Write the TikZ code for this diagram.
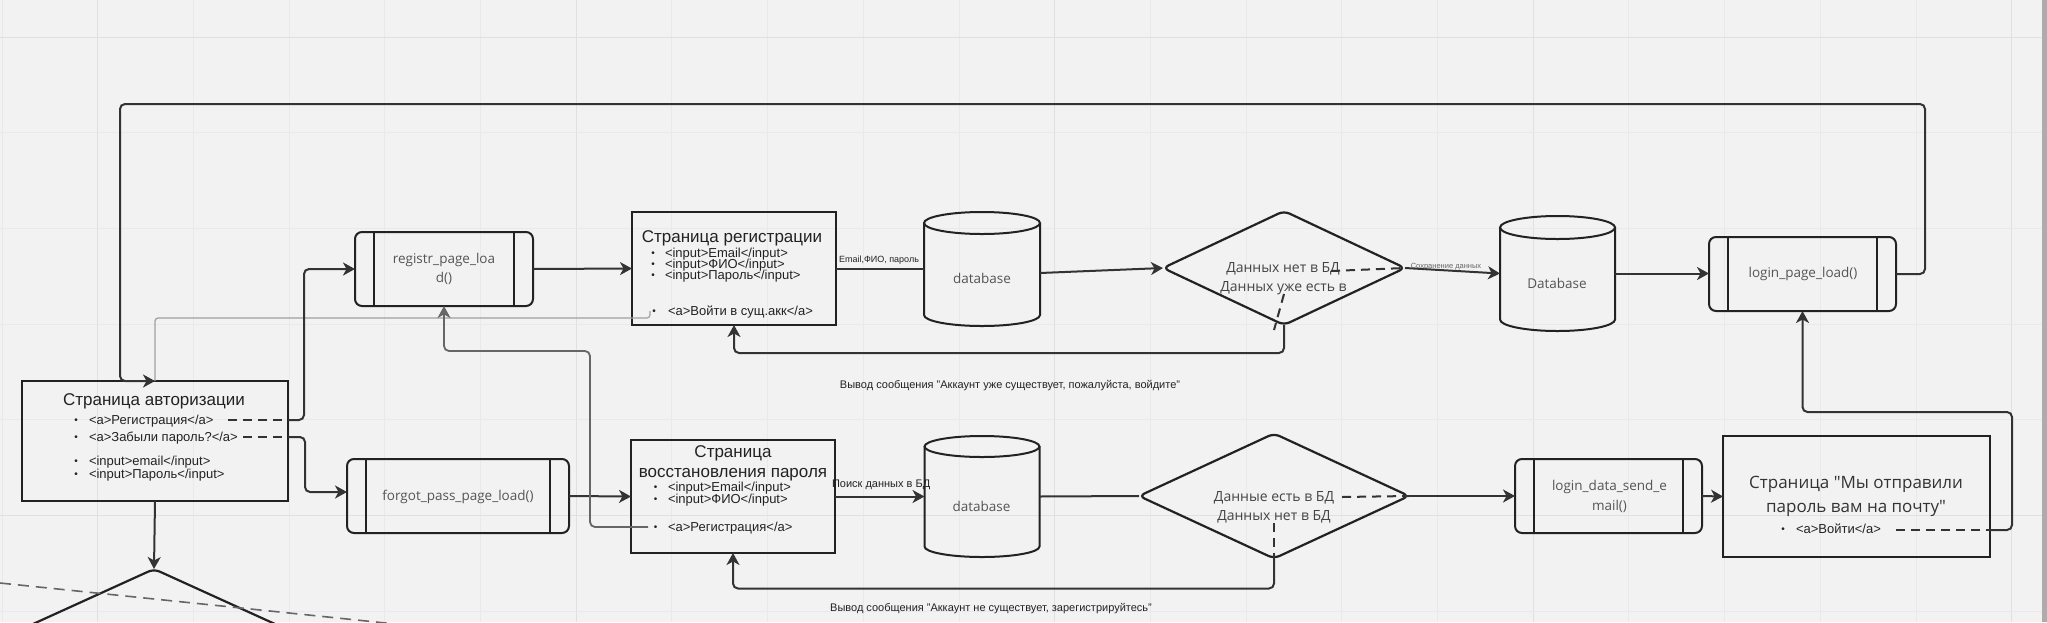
\documentclass[tikz,border=0pt]{standalone}
\usepackage{fontspec}
\setmainfont{Liberation Sans}
\newfontfamily\osf{Open Sans}
\usetikzlibrary{arrows.meta,shapes.geometric,calc}

\definecolor{bg}{HTML}{F2F2F2}
\definecolor{gridc}{HTML}{E9E9E9}
\definecolor{gridm}{HTML}{E0E0E0}
\definecolor{ink}{HTML}{333333}
\definecolor{txt}{HTML}{222222}
\definecolor{ostxt}{HTML}{555555}
\definecolor{dtxt}{HTML}{444444}
\definecolor{gline}{HTML}{666666}
\definecolor{gthin}{HTML}{A0A0A0}

\tikzset{
  tip/.tip={Stealth[length=12pt,width=13pt,inset=3.5pt]},
  conn/.style={draw=ink, line width=2pt, rounded corners=5pt, -tip},
  plain/.style={draw=ink, line width=2pt},
  dashl/.style={draw=ink, line width=2pt, dash pattern=on 9pt off 6pt},
  gconn/.style={draw=gline, line width=1.8pt, rounded corners=5pt, -{Stealth[length=12pt,width=13pt,inset=3.5pt,fill=gline]}},
  gthinline/.style={draw=gthin, line width=1.2pt, rounded corners=3pt},
  gdash/.style={draw=gline, line width=1.6pt, dash pattern=on 11pt off 7pt},
  pagebox/.style={rectangle, draw=txt, line width=2.4pt, inner sep=0pt, outer sep=0pt},
  procbox/.style={rectangle, draw=txt, line width=2pt, rounded corners=7pt, inner sep=0pt, outer sep=0pt},
  barline/.style={draw=txt, line width=2pt},
  cylbox/.style={rectangle, draw=none, inner sep=0pt, outer sep=0pt},
  cylline/.style={draw=txt, line width=2pt},
  dia/.style={diamond, draw=txt, line width=2.2pt, inner sep=0pt, outer sep=0pt, rounded corners=6pt},
  tA/.style={inner sep=0pt, outer sep=0pt, text=txt, font=\fontsize{17}{20}\selectfont, text height=11pt, text depth=0pt},
  tB/.style={inner sep=0pt, outer sep=0pt, text=txt, anchor=west, font=\fontsize{13}{15}\selectfont, text height=8.6pt, text depth=0pt},
  bul/.style={inner sep=0pt, outer sep=0pt, text=txt, font=\fontsize{10}{11}\selectfont, text height=6.6pt, text depth=0pt},
  tO/.style={inner sep=0pt, outer sep=0pt, text=ostxt, font=\osf\fontsize{13.5}{16}\selectfont, text height=9pt, text depth=0pt},
  tOd/.style={inner sep=0pt, outer sep=0pt, text=dtxt, font=\osf\fontsize{14}{16}\selectfont, text height=9.4pt, text depth=0pt},
  tOm/.style={inner sep=0pt, outer sep=0pt, text=ink, font=\osf\fontsize{17}{20}\selectfont, text height=11.4pt, text depth=0pt},
  tL/.style={inner sep=0pt, outer sep=0pt, text=txt, font=\fontsize{11}{13}\selectfont, text height=7.2pt, text depth=0pt},
  tS/.style={inner sep=0pt, outer sep=0pt, text=txt, font=\fontsize{9}{11}\selectfont, text height=6pt, text depth=0pt},
  tXS/.style={inner sep=0pt, outer sep=0pt, text=gline, font=\fontsize{7.5}{9}\selectfont, text height=5pt, text depth=0pt},
}

\newcommand\procbars[2]{%
  \draw[barline] ([xshift=#2pt]#1.north west) -- ([xshift=#2pt]#1.south west);
  \draw[barline] ([xshift=-#2pt]#1.north east) -- ([xshift=-#2pt]#1.south east);}
\newcommand\cylshape[3]{%
  \draw[cylline] ($(#1.north west)+(0,#3)$) -- ($(#1.south west)+(0,-#3)$)
     arc[start angle=180,end angle=0,x radius=#2,y radius=#3] -- ($(#1.north east)+(0,#3)$);
  \draw[cylline] ($(#1.north)+(0,#3)$) ellipse[x radius=#2,y radius=#3];}

\begin{document}
\begin{tikzpicture}[x=1pt,y=-1pt]
\useasboundingbox (0,0) rectangle (2047,622);
\fill[bg] (0,0) rectangle (2047,622);
% grid
\foreach \i in {0,...,21}{
  \pgfmathtruncatemacro\m{mod(\i,5)}
  \ifnum\m=1 \draw[gridm, line width=1pt] ({2+95.7*\i},0) -- ({2+95.7*\i},622);
  \else \draw[gridc, line width=1pt] ({2+95.7*\i},0) -- ({2+95.7*\i},622); \fi}
\foreach \j in {0,...,6}{
  \pgfmathtruncatemacro\m{mod(\j,5)}
  \ifnum\m=0 \draw[gridm, line width=1pt] (0,{37+95.7*\j}) -- (2047,{37+95.7*\j});
  \else \draw[gridc, line width=1pt] (0,{37+95.7*\j}) -- (2047,{37+95.7*\j}); \fi}
\fill[gray!65] (2042,0) rectangle (2047,622);

% shapes
\node[pagebox, minimum width=266pt, minimum height=120pt] (auth) at (155,441) {};
\node[procbox, minimum width=178pt, minimum height=74pt] (rp) at (444,269) {};
\node[pagebox, minimum width=204pt, minimum height=113pt] (rg) at (734,268.5) {};
\node[cylbox, minimum width=116pt, minimum height=114pt] (db1) at (982,269) {};
\node[dia, minimum width=242pt, minimum height=114pt] (d1) at (1284,268) {};
\node[cylbox, minimum width=115pt, minimum height=115pt] (db2) at (1557.5,273.5) {};
\node[procbox, minimum width=187pt, minimum height=74pt] (lp) at (1802.5,274) {};
\node[procbox, minimum width=222pt, minimum height=74pt] (fp) at (458,496) {};
\node[pagebox, minimum width=204pt, minimum height=113pt] (vp) at (733,496.5) {};
\node[cylbox, minimum width=115pt, minimum height=121pt] (db3) at (982,496.5) {};
\node[dia, minimum width=270pt, minimum height=125pt] (d2) at (1274,496) {};
\node[procbox, minimum width=187pt, minimum height=74pt] (ld) at (1608.5,496) {};
\node[pagebox, minimum width=267pt, minimum height=121pt] (ms) at (1856.5,496.5) {};
\node[dia, minimum width=330pt, minimum height=150pt] (d3) at (154,644) {};
\procbars{rp}{19}
\procbars{lp}{19}
\procbars{fp}{19}
\procbars{ld}{19}
\cylshape{db1}{58}{11}
\cylshape{db2}{57.5}{11.5}
\cylshape{db3}{57.5}{10.5}

% texts: authorization page
\node[tA] (t1) at (154,400) {Страница авторизации};
\node[bul] (b1) at (76,420) {•}; \node[tB] (t2) at (89,420) {<a>Регистрация</a>};
\node[bul] (b2) at (76,437) {•}; \node[tB] (t3) at (89,437) {<a>Забыли пароль?</a>};
\node[bul] (b3) at (76,461) {•}; \node[tB] (t4) at (89,461) {<input>email</input>};
\node[bul] (b4) at (76,474) {•}; \node[tB] (t5) at (89,474) {<input>Пароль</input>};
% registration page
\node[tA] (t6) at (732,237) {Страница регистрации};
\node[bul] (b5) at (653,253) {•}; \node[tB] (t7) at (665,253) {<input>Email</input>};
\node[bul] (b6) at (653,264) {•}; \node[tB] (t8) at (665,264) {<input>ФИО</input>};
\node[bul] (b7) at (653,275) {•}; \node[tB] (t9) at (665,275) {<input>Пароль</input>};
\node[bul] (b8) at (654,311) {•}; \node[tB] (t10) at (668,311) {<a>Войти в сущ.акк</a>};
% recovery page
\node[tA] (t11) at (733,452) {Страница};
\node[tA] (t12) at (733,472) {восстановления пароля};
\node[bul] (b9) at (655.5,487) {•}; \node[tB] (t13) at (668,487) {<input>Email</input>};
\node[bul] (b10) at (655.5,499) {•}; \node[tB] (t14) at (668,499) {<input>ФИО</input>};
\node[bul] (b11) at (655.5,527) {•}; \node[tB] (t15) at (668,527) {<a>Регистрация</a>};
% sent page
\node[tOm] (t16) at (1856,483) {Страница "Мы отправили};
\node[tOm] (t17) at (1856,507) {пароль вам на почту"};
\node[bul] (b12) at (1783,529) {•}; \node[tB] (t18) at (1796,529) {<a>Войти</a>};
% process / db texts
\node[tO] (t19) at (444,259) {registr\_page\_loa};
\node[tO] (t20) at (444,278) {d()};
\node[tO] (t21) at (458,496) {forgot\_pass\_page\_load()};
\node[tO] (t22) at (1803,273) {login\_page\_load()};
\node[tO] (t23) at (1609.5,486) {login\_data\_send\_e};
\node[tO] (t24) at (1609.5,506) {mail()};
\node[tO] (t25) at (982,279) {database};
\node[tO] (t26) at (1557,284) {Database};
\node[tO] (t27) at (981.5,507) {database};
\node[tOd] (t28) at (1283,268) {Данных нет в БД};
\node[tOd] (t29) at (1283.5,287) {Данных уже есть в};
\node[tOd] (t30) at (1274,497) {Данные есть в БД};
\node[tOd] (t31) at (1274,516) {Данных нет в БД};

% connectors
\draw[conn] (lp.east) -- ++(29,0) |- ([xshift=-35pt,yshift=277pt]auth.north) -- ([xshift=-35pt]auth.north) -- (auth.north);
\coordinate (voiti) at (650,311);
\draw[gthinline] (voiti) |- ([yshift=63pt]auth.north) -- (auth.north);
\coordinate (regend) at (228,420);
\draw[dashl] (regend) -- (regend -| auth.east);
\draw[conn] (regend -| auth.east) -- ++(16,0) |- (rp.west);
\coordinate (zabend) at (243,437);
\draw[dashl] (zabend) -- (zabend -| auth.east);
\draw[conn] (zabend -| auth.east) -- ++(17,0) |- ([yshift=4pt]fp.west);
\draw[conn] (rp.east) -- (rg.west);
\draw[plain] (rg.east) -- (rg.east -| db1.west);
\draw[conn] ([yshift=-4pt]db1.east) -- (d1.west);
\draw[conn] (d1.east) -- (db2.west);
\draw[conn] (db2.east) -- (db2.east -| lp.west);
\draw[conn] (d1.south) -- ++(0,28) -| (rg.south);
\coordinate (d1a) at (1331,271);
\draw[dashl] (d1a) -- (d1.east);
\coordinate (d1b) at (1284,294);
\coordinate (d1c) at (1274,330);
\draw[dashl] (d1b) -- (d1c);
\draw[conn] (fp.east) -- (vp.west);
\draw[conn] (vp.east) -- (vp.east -| db3.west);
\draw[plain] (db3.east) -- (d2.west);
\draw[conn] (d2.east) -- (d2.east -| ld.west);
\draw[conn] (ld.east) -- (ms.west);
\coordinate (d2a) at (1342,497);
\draw[dashl] (d2a) -- (d2.east);
\coordinate (d2b) at (1274,523);
\draw[dashl] (d2b) -- (d2.south);
\draw[conn] (d2.south) -- ++(0,30) -| (vp.south);
\coordinate (voiti2) at (1896,530);
\draw[dashl] (voiti2) -- (voiti2 -| ms.east);
\draw[conn] (voiti2 -| ms.east) -- ++(22,0) |- ([yshift=-101pt]lp.south) -- (lp.south);
\coordinate (vreg) at (648,527);
\draw[gconn] (vreg) -- ++(-58,0) |- ([yshift=-45pt]rp.south) -- (rp.south);
\draw[conn] (auth.south) -- (d3.north);
\coordinate (bl1) at (0,583);
\coordinate (bl2) at (400,624.5);
\draw[gdash] (bl1) -- (bl2);

% labels
\node[tS, anchor=west] (l1) at (839,259) {Email,ФИО, пароль};
\node[tXS] (l2) at (1446,266) {Сохранение данных};
\node[tL, anchor=west] (l3) at (832,484) {Поиск данных в БД};
\node[tL] (l4) at (1010,385) {Вывод сообщения "Аккаунт уже существует, пожалуйста, войдите"};
\node[tL] (l5) at (991,608) {Вывод сообщения "Аккаунт не существует, зарегистрируйтесь"};
\end{tikzpicture}
\end{document}
